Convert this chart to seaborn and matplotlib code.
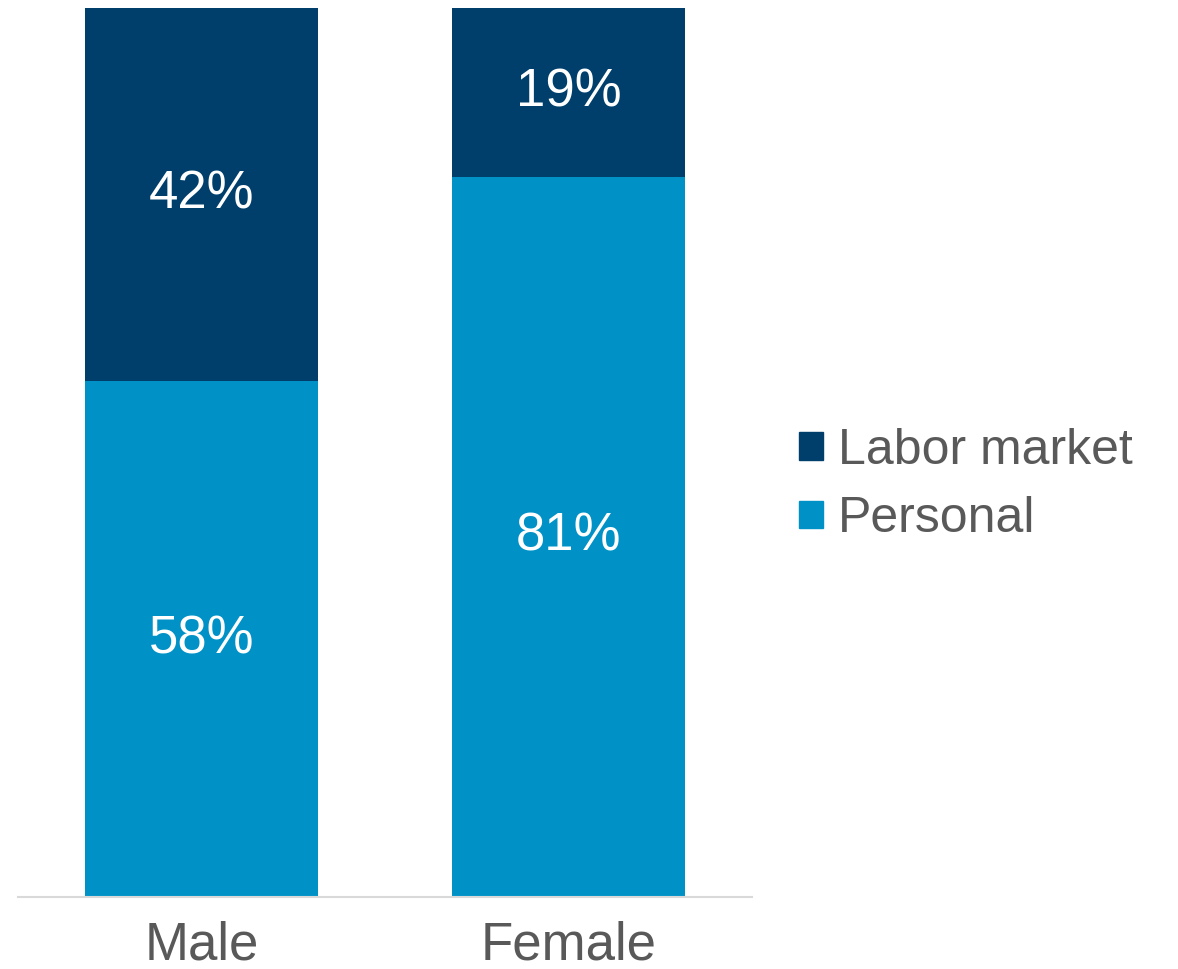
import matplotlib
matplotlib.use("Agg")
import matplotlib.pyplot as plt
from matplotlib.patches import Patch
import seaborn as sns
import pandas as pd

# Share of reasons by gender (percent)
genders = ["Male", "Female"]
personal = [58, 81]
labor_market = [42, 19]

COLOR_LABOR = "#003F6B"
COLOR_PERSONAL = "#0092C7"
TEXT_GRAY = "#595959"

sns.set_theme(style="white")
plt.rcParams["font.family"] = ["Liberation Sans", "DejaVu Sans"]

df = pd.DataFrame({
    "gender": genders,
    "personal": personal,
    "labor": labor_market,
})
df["total"] = df["personal"] + df["labor"]

fig = plt.figure(figsize=(11.78, 9.69), dpi=100)
ax = fig.add_axes([18 / 1178, 72 / 969, 734 / 1178, 889 / 969])

# Stacked bars: full height in the labor colour, personal share drawn over it
sns.barplot(data=df, x="gender", y="total", color=COLOR_LABOR, width=0.634,
            linewidth=0, saturation=1, ax=ax)
sns.barplot(data=df, x="gender", y="personal", color=COLOR_PERSONAL, width=0.634,
            linewidth=0, saturation=1, ax=ax)

ax.set_xlim(-0.5, 1.5)
ax.set_ylim(0, 100)

for i, row in df.iterrows():
    ax.text(i, row["personal"] / 2, f"{row['personal']}%", ha="center", va="center",
            color="white", fontsize=38)
    ax.text(i, row["personal"] + row["labor"] / 2, f"{row['labor']}%", ha="center",
            va="center", color="white", fontsize=38)

for side in ["top", "right", "left"]:
    ax.spines[side].set_visible(False)
ax.spines["bottom"].set_color("#D9D9D9")
ax.spines["bottom"].set_linewidth(1.5)
ax.set_yticks([])
ax.set_xlabel("")
ax.set_ylabel("")
ax.tick_params(axis="x", length=0, pad=17, labelsize=38, labelcolor=TEXT_GRAY)

handles = [Patch(color=COLOR_LABOR, label="Labor market"),
           Patch(color=COLOR_PERSONAL, label="Personal")]
fig.legend(handles=handles, loc="center left", bbox_to_anchor=(799 / 1178, 1 - 485 / 969),
           frameon=False, fontsize=36, labelcolor=TEXT_GRAY, handlelength=0.48,
           handleheight=0.48, handletextpad=0.3, labelspacing=0.45, borderaxespad=0,
           borderpad=0)

fig.savefig("out.png", dpi=100)
